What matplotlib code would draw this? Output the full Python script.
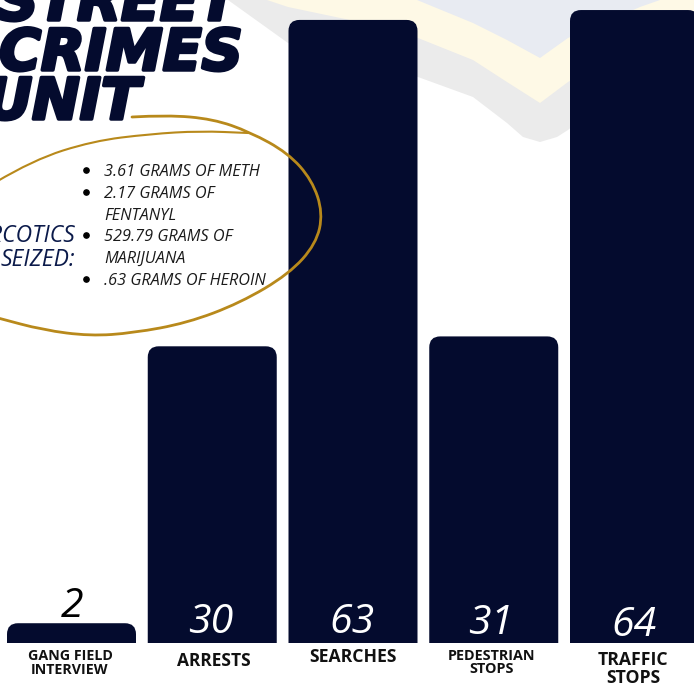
#!/usr/bin/env python3

"""Street Crimes Unit activity counts, with the narcotics seized called out."""

import matplotlib
matplotlib.use("Agg")
import matplotlib.pyplot as plt
import matplotlib.patheffects as pe
from matplotlib.patches import PathPatch, Polygon
from matplotlib.path import Path

NAVY = "#040b2e"
GOLD = "#b8891b"
WIDTH, HEIGHT = 694, 683
BASELINE = 643

categories = ["GANG FIELD\nINTERVIEW", "ARRESTS", "SEARCHES", "PEDESTRIAN\nSTOPS", "TRAFFIC\nSTOPS"]
counts = [2, 30, 63, 31, 64]
narcotics = ["3.61 GRAMS OF METH", "2.17 GRAMS OF\nFENTANYL", "529.79 GRAMS OF\nMARIJUANA", ".63 GRAMS OF HEROIN"]


def rounded_bar(ax, bar, rx, ry):
    """Swap a bar rectangle for one with rounded top corners."""
    x0, x1 = bar.get_x(), bar.get_x() + bar.get_width()
    top = bar.get_height()
    ry = min(ry, top)
    verts = [(x0, 0), (x0, top - ry), (x0, top), (x0 + rx, top),
             (x1 - rx, top), (x1, top), (x1, top - ry), (x1, 0), (x0, 0)]
    codes = [Path.MOVETO, Path.LINETO, Path.CURVE3, Path.CURVE3,
             Path.LINETO, Path.CURVE3, Path.CURVE3, Path.LINETO, Path.CLOSEPOLY]
    ax.add_patch(PathPatch(Path(verts, codes), facecolor=bar.get_facecolor(), edgecolor="none", zorder=2))
    bar.set_visible(False)


def pen_stroke(points):
    """Smooth path through a list of hand placed points."""
    verts = [points[0]]
    codes = [Path.MOVETO]
    for a, b in zip(points[1:-1], points[2:]):
        verts += [a, ((a[0] + b[0]) / 2, (a[1] + b[1]) / 2)]
        codes += [Path.CURVE3, Path.CURVE3]
    verts.append(points[-1])
    codes.append(Path.LINETO)
    return Path(verts, codes)


fig = plt.figure(figsize=(WIDTH / 100, HEIGHT / 100), dpi=100)

# page layer in pixel coordinates, for the badge, title and notes
page = fig.add_axes([0, 0, 1, 1], zorder=1)
page.set_xlim(0, WIDTH)
page.set_ylim(HEIGHT, 0)
page.axis("off")

# faded badge behind the bars
page.add_patch(Polygon([(228, 0), (288, 43), (350, 58), (418, 77), (473, 97), (507, 123), (523, 137),
                        (540, 142), (557, 137), (568, 130), (640, 70), (694, 40), (694, 0)],
                       facecolor="#ebebeb", edgecolor="none", zorder=0))
page.add_patch(Polygon([(267, 0), (288, 7), (350, 20), (418, 38), (473, 60), (507, 82), (540, 103),
                        (568, 82), (640, 40), (694, 20), (694, 0)],
                       facecolor="#fef9e6", edgecolor="none", zorder=0.1))
page.add_patch(Polygon([(417, 0), (473, 23), (507, 40), (540, 58), (568, 38), (640, 7), (660, 0)],
                       facecolor="#e8ebf2", edgecolor="none", zorder=0.2))

# bars share one axes with the value scale, baseline sits above the labels
chart = fig.add_axes([0, 1 - BASELINE / HEIGHT, 1, BASELINE / HEIGHT], zorder=2)
chart.patch.set_alpha(0)
chart.axis("off")
step = 140.75
chart.set_xlim(-71.5 / step, (WIDTH - 71.5) / step)
chart.set_ylim(0, BASELINE / 9.89)
positions = list(range(len(counts)))
bars = chart.bar(positions, counts, width=129 / step, color=NAVY)
for bar in bars:
    rounded_bar(chart, bar, 11 / step, 11 / 9.89)

# text layer on top of the bars
over = fig.add_axes([0, 0, 1, 1], zorder=3)
over.patch.set_alpha(0)
over.set_xlim(0, WIDTH)
over.set_ylim(HEIGHT, 0)
over.axis("off")

value_places = [(72, 617), (211, 633), (352, 633), (491, 634), (634, 636)]
for count, (x, base) in zip(counts, value_places):
    color = "black" if count < 5 else "white"
    over.text(x, base, str(count), color=color, family="Open Sans", style="italic",
              fontsize=29.5, ha="center", va="baseline")

label_places = [(70, 663, 10.3), (214, 661, 12.5), (353, 657, 12.7), (492, 662.5, 10.4), (633, 669, 12.7)]
for label, (x, y, size) in zip(categories, label_places):
    over.text(x, y, label, family="Open Sans", weight="bold", fontsize=size, color="#111111",
              ha="center", va="center", linespacing=0.95, multialignment="center")

# title runs off the left edge
title_style = dict(family="DejaVu Sans", weight="bold", style="oblique", color=NAVY, fontsize=41, ha="right",
                   va="baseline", path_effects=[pe.withStroke(linewidth=2.5, foreground=NAVY)])
over.text(238, 20, "STREET", **title_style)
over.text(243, 70, "CRIMES", **title_style)
over.text(140, 119, "UNIT", **title_style)

seized_style = dict(family="Open Sans", style="italic", fontsize=16.5, color="#0b1a4a", ha="right", va="baseline")
over.text(75, 242, "NARCOTICS", **seized_style)
over.text(75, 266, "SEIZED:", **seized_style)

# bulleted list of seizures, wrapped lines placed one by one
line_height = 21.8
line = 0
for item in narcotics:
    y = 170 + line * line_height
    over.plot([86], [y], "o", color="black", markersize=3.8)
    for part in item.split("\n"):
        over.text(104, 170 + line * line_height + 6, part, family="Open Sans", style="italic",
                  fontsize=11.7, color="#1a1a1a", ha="left", va="baseline")
        line += 1

# hand drawn loop around the list
loop_main = [(132, 117), (167, 115), (213, 119), (250, 132), (288, 153), (312, 180), (323, 213), (316, 244),
             (289, 274), (240, 303), (187, 323), (133, 333), (90, 336), (43, 330), (-2, 318)]
loop_inner = [(-4, 182), (33, 160), (93, 141), (150, 134), (200, 131), (248, 133)]
for points, lw in ((loop_main, 2.0), (loop_inner, 1.5)):
    over.add_patch(PathPatch(pen_stroke(points), facecolor="none", edgecolor=GOLD, linewidth=lw,
                             capstyle="round", zorder=4))

fig.savefig("out.png", dpi=100)
